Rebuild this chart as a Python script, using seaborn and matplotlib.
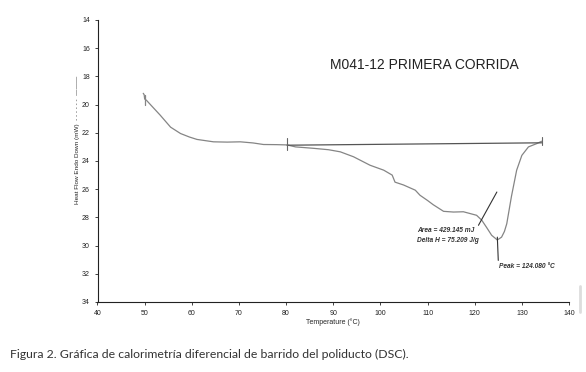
import matplotlib
matplotlib.use("Agg")
import matplotlib.pyplot as plt
import seaborn as sns
import pandas as pd

# DSC curve
temp = [49.7, 49.9, 50.0, 50.4, 51.5, 53.3, 55.5, 57.6, 59.5, 61.1, 64.6, 67.5, 70.3,
        73.0, 75.2, 78.0, 80.2, 82.0, 85.8, 89.0, 91.5, 94.3, 97.8, 100.7, 102.5,
        103.1, 104.9, 107.4, 108.4, 110.0, 111.2, 113.4, 115.5, 117.6, 120.4,
        121.5, 122.5, 123.6, 124.8, 125.7, 126.3, 126.8, 127.8, 128.9, 130.0,
        131.4, 133.2, 134.2]
heat_flow = [19.2, 19.3, 19.6, 19.7, 20.1, 20.75, 21.6, 22.05, 22.3, 22.47, 22.64, 22.66,
             22.64, 22.72, 22.83, 22.84, 22.86, 23.0, 23.1, 23.2, 23.35, 23.7, 24.3, 24.65,
             25.0, 25.5, 25.7, 26.07, 26.43, 26.8, 27.1, 27.57, 27.62, 27.6, 27.85,
             28.2, 28.7, 29.27, 29.6, 29.4, 29.0, 28.45, 26.5, 24.65, 23.6,
             23.0, 22.76, 22.6]

baseline_t = [80.2, 134.2]
baseline_v = [22.88, 22.71]

x_ticks = [40, 50, 60, 70, 80, 90, 100, 110, 120, 130, 140]
y_ticks = [14, 16, 18, 20, 22, 24, 26, 28, 30, 32, 34]

title = "M041-12 PRIMERA CORRIDA"
area_txt = "Area = 429.145 mJ"
dh_txt = "Delta H = 75.209 J/g"
peak_txt = "Peak = 124.080 \u00b0C"
caption = "Figura 2. Gráfica de calorimetría diferencial de barrido del poliducto (DSC)."

sns.set_style("white")
plt.rcParams['font.family'] = ['Liberation Sans', 'DejaVu Sans']

fig = plt.figure(figsize=(5.86, 3.72), dpi=100)
ax = fig.add_axes([97.5 / 586, 1 - 302 / 372, (569 - 97.5) / 586, 282 / 372])

curve = pd.DataFrame({'Temperature': temp, 'HeatFlow': heat_flow})
line_col = '#858585'
sns.lineplot(data=curve, x='Temperature', y='HeatFlow', sort=False, color=line_col,
             lw=0.9, ax=ax)
ax.plot(baseline_t, baseline_v, color='#555555', lw=0.9)

# small markers on the trace
ax.plot([50.0, 50.0], [19.3, 20.0], color=line_col, lw=0.9)
ax.plot([80.2, 80.2], [22.4, 23.2], color='#666666', lw=0.8)
ax.plot([134.2, 134.2], [22.3, 22.9], color='#666666', lw=0.8)
ax.plot([120.8, 124.7], [28.56, 26.2], color='#333333', lw=0.8)
ax.plot([124.8, 125.0], [29.4, 31.05], color='#333333', lw=0.8)

ax.set_xlim(40, 140)
ax.set_ylim(34, 14)
ax.set_xticks(x_ticks)
ax.set_yticks(y_ticks)
ax.tick_params(axis='both', labelsize=5, length=2.5, width=0.6, direction='out',
               pad=3, colors='#222222', left=True, bottom=True)
for s in ['top', 'right']:
    ax.spines[s].set_visible(False)
for s in ['left', 'bottom']:
    ax.spines[s].set_color('#222222')
    ax.spines[s].set_linewidth(0.8)

ax.set_xlabel('Temperature (\u00b0C)', fontsize=5, labelpad=1)
ax.set_ylabel('Heat Flow Endo Down (mW)  - - - - - -  \u2014\u2014\u2014', fontsize=4.6)
ax.yaxis.set_label_coords(-0.037, 0.574)

ax.text(330 / 586, 1 - 65 / 372, title, transform=fig.transFigure, fontsize=10,
        ha='left', va='center', color='#222222')
ax.text(107.8, 28.9, area_txt, fontsize=4.8, style='italic', fontweight='bold',
        color='#333333', va='center')
ax.text(107.8, 29.67, dh_txt, fontsize=4.8, style='italic', fontweight='bold',
        color='#333333', va='center')
ax.text(125.2, 31.5, peak_txt, fontsize=4.8, style='italic', fontweight='bold',
        color='#333333', va='center')

fig.text(10 / 586, 1 - 354 / 372, caption, fontsize=8.8, family=['Lato', 'DejaVu Sans'],
         color='#333333', ha='left', va='center')

# faint scan edge at right
fig.add_artist(plt.Line2D([580 / 586, 580 / 586], [1 - 312 / 372, 1 - 286 / 372],
                          color='#dddddd', lw=2, transform=fig.transFigure))

fig.savefig('out.png', dpi=100)
